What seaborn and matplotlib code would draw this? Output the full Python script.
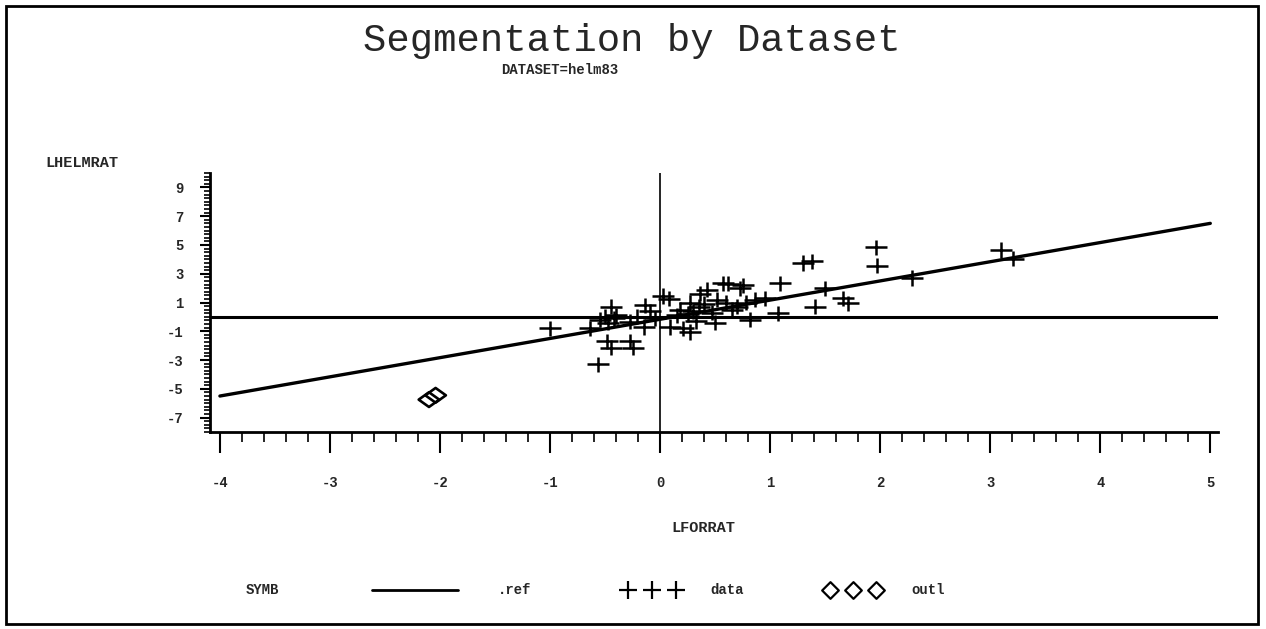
import matplotlib.pyplot as plt
import seaborn as sns
from matplotlib.lines import Line2D
from matplotlib.path import Path
from matplotlib.patches import Rectangle
from matplotlib.ticker import MultipleLocator

# data points
data_x = [-1.00, -0.64, -0.56, -0.55, -0.50, -0.47, -0.45, -0.48, -0.45, -0.42,
          -0.40, -0.27, -0.25, -0.27, -0.21, -0.15, -0.14, -0.09, -0.05, 0.03,
          0.08, 0.09, 0.15, 0.18, 0.21, 0.25, 0.27, 0.27, 0.30, 0.33,
          0.35, 0.36, 0.40, 0.43, 0.47, 0.50, 0.52, 0.57, 0.60, 0.62,
          0.65, 0.70, 0.73, 0.75, 0.78, 0.82, 0.86, 0.95, 1.07, 1.09,
          1.30, 1.38, 1.41, 1.50, 1.66, 1.71, 1.96, 1.97, 2.29, 3.10, 3.21]
data_y = [-0.80, -0.80, -3.30, -0.20, 0.00, -0.40, 0.70, -1.70, -2.15, -0.10,
          0.10, -1.70, -2.15, -0.35, 0.00, -0.70, 0.80, 0.40, -0.10, 1.45,
          1.25, -0.70, 0.10, 0.50, -0.80, 0.20, 1.00, -1.05, 0.40, -0.30,
          0.70, 1.60, 0.90, 1.90, 0.30, -0.40, 1.20, 2.35, 1.00, 2.30,
          0.50, 0.70, 2.00, 2.20, 1.00, -0.20, 1.20, 1.30, 0.25, 2.35,
          3.75, 3.85, 0.70, 2.00, 1.30, 0.95, 4.85, 3.55, 2.70, 4.65, 4.05]

outl_x = [-2.10, -2.04]
outl_y = [-5.75, -5.45]

fit_x = [-4.0, 5.0]
fit_y = [-5.5, 6.5]

x_ticks = [-4, -3, -2, -1, 0, 1, 2, 3, 4, 5]
y_ticks = [-7, -5, -3, -1, 1, 3, 5, 7, 9]

sns.set_style("white")
plt.rcParams["font.family"] = ["Liberation Mono", "DejaVu Sans Mono"]
plt.rcParams["axes.unicode_minus"] = False

W, H = 1266, 629
fig = plt.figure(figsize=(W / 100, H / 100), dpi=100)


def fx(px):
    return px / W


def fy(py):
    return 1 - py / H


ax = fig.add_axes([fx(210), fy(432), fx(1218) - fx(210), fy(173) - fy(432)])

# stretched markers like the old plotter output
wide_plus = Path([(-1.45, 0), (1.45, 0), (0, -1), (0, 1)],
                 [Path.MOVETO, Path.LINETO, Path.MOVETO, Path.LINETO])
wide_diamond = Path([(-1.4, 0), (0, 1), (1.4, 0), (0, -1), (-1.4, 0)],
                    [Path.MOVETO, Path.LINETO, Path.LINETO, Path.LINETO, Path.CLOSEPOLY])
diamond = Path([(-1, 0), (0, 1), (1, 0), (0, -1), (-1, 0)],
               [Path.MOVETO, Path.LINETO, Path.LINETO, Path.LINETO, Path.CLOSEPOLY])

ax.axhline(0, color="black", lw=2.2, zorder=1)
ax.axvline(0, color="black", lw=1.2, zorder=1)
sns.lineplot(x=fit_x, y=fit_y, color="black", lw=2.4, ax=ax, zorder=2)

sns.scatterplot(x=data_x, y=data_y, marker=wide_plus, s=250, facecolor="none",
                edgecolor="black", linewidth=1.8, ax=ax, zorder=3)
sns.scatterplot(x=outl_x, y=outl_y, marker=wide_diamond, s=220, facecolor="none",
                edgecolor="black", linewidth=1.9, ax=ax, zorder=3)

ax.set_xlim(-4.09, 5.07)
ax.set_ylim(-8, 10)
ax.set_xticks(x_ticks)
ax.set_xticklabels([str(t) for t in x_ticks], fontweight="bold", fontsize=10)
ax.set_yticks(y_ticks)
ax.set_yticklabels([str(t) for t in y_ticks], fontweight="bold", fontsize=10)
ax.xaxis.set_minor_locator(MultipleLocator(0.2))
ax.yaxis.set_minor_locator(MultipleLocator(0.25))
ax.tick_params(axis="x", which="major", direction="out", length=15, width=1.5,
               pad=17, bottom=True, color="black")
ax.tick_params(axis="x", which="minor", direction="out", length=7, width=1.2,
               bottom=True, color="black")
ax.tick_params(axis="y", which="major", direction="out", length=7, width=1.5,
               pad=12, left=True, color="black")
ax.tick_params(axis="y", which="minor", direction="out", length=4, width=1.2,
               left=True, color="black")
for side in ["top", "right"]:
    ax.spines[side].set_visible(False)
for side in ["left", "bottom"]:
    ax.spines[side].set_linewidth(2)
    ax.spines[side].set_color("black")
ax.set_xlabel("")
ax.set_ylabel("")

# titles and axis names
fig.text(fx(632), fy(41), "Segmentation by Dataset", fontsize=28,
         ha="center", va="center")
fig.text(fx(560), fy(70), "DATASET=helm83", fontsize=10, fontweight="bold",
         ha="center", va="center")
fig.text(fx(45), fy(163), "LHELMRAT", fontsize=11, fontweight="bold",
         ha="left", va="center")
fig.text(fx(703), fy(528), "LFORRAT", fontsize=11, fontweight="bold",
         ha="center", va="center")

# legend row
ly = fy(590)
fig.text(fx(262), ly, "SYMB", fontsize=10, fontweight="bold", ha="center", va="center")
fig.add_artist(Line2D([fx(372), fx(458)], [ly, ly], color="black", lw=2))
fig.text(fx(515), ly, ".ref", fontsize=10, fontweight="bold", ha="center", va="center")
fig.add_artist(Line2D([fx(628), fx(652), fx(676)], [ly] * 3, ls="none",
                      marker="+", markersize=13, mew=1.6, color="black"))
fig.text(fx(727), ly, "data", fontsize=10, fontweight="bold", ha="center", va="center")
fig.add_artist(Line2D([fx(830), fx(853), fx(876)], [ly] * 3, ls="none",
                      marker=diamond, markersize=12, mew=1.6, mfc="none", color="black"))
fig.text(fx(928), ly, "outl", fontsize=10, fontweight="bold", ha="center", va="center")

# page frame
fig.add_artist(Rectangle((fx(6), fy(624)), fx(1258) - fx(6), fy(6) - fy(624),
                         transform=fig.transFigure, fill=False, lw=2, ec="black"))

fig.savefig("out.png", dpi=100)
